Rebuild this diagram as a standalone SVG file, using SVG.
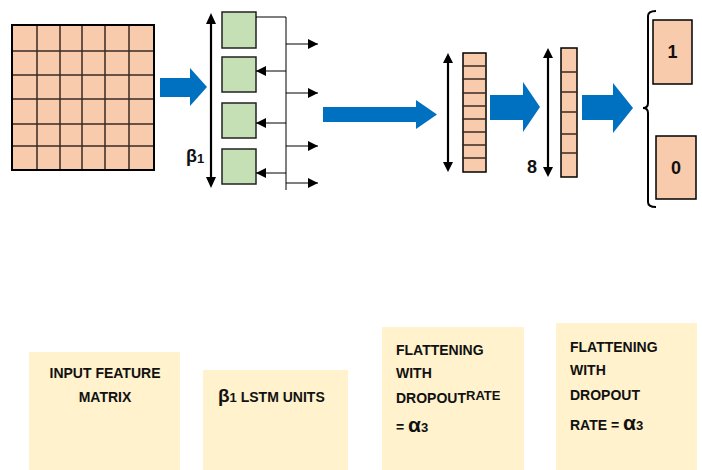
<svg xmlns="http://www.w3.org/2000/svg" width="702" height="470" viewBox="0 0 702 470">
<style>
.gl{stroke:#3a2a20;stroke-width:1.5}
.green{fill:#C5E0B4;stroke:#222;stroke-width:1.5}
.blue{fill:#0070C0}
.ln{stroke:#000;stroke-width:1;fill:none}
.dbl{stroke:#000;stroke-width:2.2;fill:none}
.hd{fill:#000}
.note{fill:#FFF2CC}
.t{font-family:"Liberation Sans",Arial,sans-serif;font-weight:bold;font-size:14px;fill:#111}
.big{font-family:"Liberation Sans",Arial,sans-serif;font-weight:bold;font-size:18px;fill:#111}
</style>
<defs>
<marker id="ah" viewBox="0 0 10 10" refX="10" refY="5" markerWidth="10" markerHeight="10" markerUnits="userSpaceOnUse" orient="auto">
<path d="M0,0 L10,5 L0,10 Z" fill="#000"/>
</marker>
</defs>

<g id="input-matrix">
<rect x="12" y="25" width="142" height="145" fill="#F8CBAD"/>
<g class="gl">
<line x1="37" y1="25" x2="37" y2="170"/>
<line x1="60" y1="25" x2="60" y2="170"/>
<line x1="82" y1="25" x2="82" y2="170"/>
<line x1="105" y1="25" x2="105" y2="170"/>
<line x1="129" y1="25" x2="129" y2="170"/>
<line x1="12" y1="51" x2="154" y2="51"/>
<line x1="12" y1="75" x2="154" y2="75"/>
<line x1="12" y1="99" x2="154" y2="99"/>
<line x1="12" y1="124" x2="154" y2="124"/>
<line x1="12" y1="146" x2="154" y2="146"/>
</g>
<rect x="12" y="25" width="142" height="145" fill="none" stroke="#000" stroke-width="2"/>
</g>

<g id="arrow1"><path class="blue" d="M160,78 H190 V68 L207,87 L190,106 V97 H160 Z"/></g>

<g id="lstm">
<rect class="green" x="222" y="12" width="34" height="36"/>
<rect class="green" x="222" y="57" width="34" height="35"/>
<rect class="green" x="222" y="103" width="34" height="35"/>
<rect class="green" x="222" y="149" width="34" height="35"/>
<text class="big" x="186" y="162">β<tspan font-size="13" dy="1">1</tspan></text>
</g>

<g id="connectors">
<line class="dbl" x1="211" y1="20" x2="211" y2="181"/>
<path class="hd" d="M206,24 L211,13 L216,24 Z M206,177 L211,188 L216,177 Z"/>
<path class="ln" d="M256,17 H286 V190"/>
<line class="ln" x1="286" y1="44" x2="318" y2="44" marker-end="url(#ah)"/>
<line class="ln" x1="286" y1="93" x2="318" y2="93" marker-end="url(#ah)"/>
<line class="ln" x1="286" y1="146" x2="318" y2="146" marker-end="url(#ah)"/>
<line class="ln" x1="286" y1="183" x2="318" y2="183" marker-end="url(#ah)"/>
<line class="ln" x1="286" y1="71" x2="256" y2="71" marker-end="url(#ah)"/>
<line class="ln" x1="286" y1="123" x2="256" y2="123" marker-end="url(#ah)"/>
<line class="ln" x1="286" y1="173" x2="256" y2="173" marker-end="url(#ah)"/>
<line class="dbl" x1="448" y1="60" x2="448" y2="165"/>
<path class="hd" d="M443,63 L448,53 L453,63 Z M443,162 L448,172 L453,162 Z"/>
<line class="dbl" x1="548" y1="55" x2="548" y2="170"/>
<path class="hd" d="M543,58 L548,48 L553,58 Z M543,167 L548,177 L553,167 Z"/>
</g>

<g id="arrow2"><path class="blue" d="M323,107 H416 V100 L437,114.5 L416,129 V122 H323 Z"/></g>

<g id="flatten1">
<rect x="463" y="53" width="23" height="119" fill="#F8CBAD" stroke="#000" stroke-width="1.5"/>
<g class="gl" stroke-width="1.2">
<line x1="462" y1="66" x2="486" y2="66"/>
<line x1="462" y1="79" x2="486" y2="79"/>
<line x1="462" y1="93" x2="486" y2="93"/>
<line x1="462" y1="106" x2="486" y2="106"/>
<line x1="462" y1="119" x2="486" y2="119"/>
<line x1="462" y1="132" x2="486" y2="132"/>
<line x1="462" y1="145" x2="486" y2="145"/>
<line x1="462" y1="158" x2="486" y2="158"/>
</g>
</g>

<g id="arrow3"><path class="blue" d="M490,95 H523 V82 L540,107 L523,132 V120 H490 Z"/></g>

<g id="flatten2">
<rect x="561" y="48" width="16" height="129" fill="#F8CBAD" stroke="#000" stroke-width="1.5"/>
<g class="gl" stroke-width="1.2">
<line x1="561" y1="72" x2="577" y2="72"/>
<line x1="561" y1="92" x2="577" y2="92"/>
<line x1="561" y1="112" x2="577" y2="112"/>
<line x1="561" y1="134" x2="577" y2="134"/>
<line x1="561" y1="153" x2="577" y2="153"/>
</g>
<text class="big" x="527" y="173">8</text>
</g>

<g id="arrow4"><path class="blue" d="M582,95 H613 V83 L633,108 L613,133 V120 H582 Z"/></g>

<g id="output">
<path d="M656,11 Q648,11 648,16 V103 Q648,108 643,108 Q648,108 648,113 V202 Q648,207 656,207" fill="none" stroke="#000" stroke-width="2"/>
<rect x="653" y="20" width="39" height="64" fill="#F8CBAD" stroke="#000" stroke-width="1.5"/>
<text class="big" x="672.5" y="58" text-anchor="middle" font-size="17">1</text>
<rect x="656" y="136" width="40" height="63" fill="#F8CBAD" stroke="#000" stroke-width="1.5"/>
<text class="big" x="676" y="174" text-anchor="middle" font-size="17">0</text>
</g>

<g id="note-input">
<rect class="note" x="29" y="352" width="151" height="118"/>
<text class="t" x="105" y="378" text-anchor="middle">INPUT FEATURE</text>
<text class="t" x="105" y="402" text-anchor="middle">MATRIX</text>
</g>

<g id="note-lstm">
<rect class="note" x="203" y="370" width="145" height="100"/>
<text class="t" x="218" y="402"><tspan font-size="19">β</tspan><tspan font-size="13">1</tspan> LSTM UNITS</text>
</g>

<g id="note-flatten1">
<rect class="note" x="382" y="327" width="142" height="143"/>
<text class="t" x="396" y="355">FLATTENING</text>
<text class="t" x="396" y="378">WITH</text>
<text class="t" x="396" y="403">DROPOUT<tspan font-size="13" dy="-3">RATE</tspan></text>
<text class="t" x="396" y="432">= <tspan font-size="21">α</tspan><tspan font-size="13">3</tspan></text>
</g>

<g id="note-flatten2">
<rect class="note" x="556" y="323" width="141" height="147"/>
<text class="t" x="570" y="352">FLATTENING</text>
<text class="t" x="570" y="375">WITH</text>
<text class="t" x="570" y="400">DROPOUT</text>
<text class="t" x="570" y="430">RATE = <tspan font-size="21">α</tspan><tspan font-size="13">3</tspan></text>
</g>
</svg>
